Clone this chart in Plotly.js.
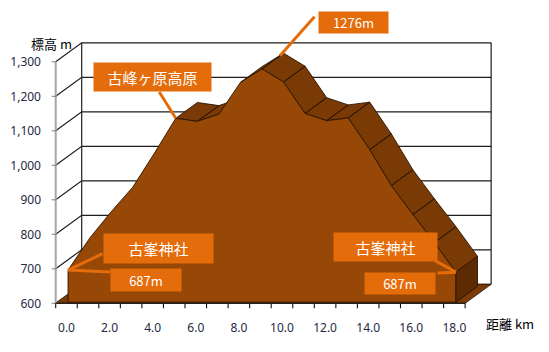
<!DOCTYPE html>
<html><head><meta charset="utf-8">
<script src="https://cdn.plot.ly/plotly-3.0.1.min.js"></script>
<style>html,body{margin:0;padding:0;background:#fff}#chart{width:549px;height:352px}</style>
</head><body><div id="chart"></div>
<script>
// ---- data ----
const distanceKm = [0,1,2,3,4,5,6,7,8,9,10,11,12,13,14,15,16,17,18];
const elevationM = [693,785,862,933,1031,1133,1124,1145,1237,1276,1238,1147,1126,1134,1042,938,854,773,687];
const yTickVals = [600,700,800,900,1000,1100,1200,1300];
const yTickText = ['600','700','800','900','1,000','1,100','1,200','1,300'];
const xTickVals = [0,2,4,6,8,10,12,14,16,18];
const xTickText = ['0.0','2.0','4.0','6.0','8.0','10.0','12.0','14.0','16.0','18.0'];
const yTitle = '標高 m';
const xTitle = '距離 km';
const peakLabel = '1276m';
const plateauLabel = '古峰ヶ原高原';
const shrineLabel = '古峯神社';
const shrineElevLabel = '687m';

// ---- geometry / style ----
const W = 549, H = 352;
const KX = 21.55, KY = 0.345;          // px per km, px per m
const X0PX = 55.7, Y0PX = 303.3;        // pixel of front-left-bottom corner
const M = {l:46, r:40, t:4, b:38};
const plotW = W - M.l - M.r, plotH = H - M.t - M.b;
const xStart = distanceKm[0] - 0.5, xEnd = distanceKm[distanceKm.length-1] + 0.5;
const yBase = yTickVals[0], yTop = yTickVals[yTickVals.length-1];
const xmin = xStart - (X0PX - M.l)/KX, xmax = xmin + plotW/KX;
const ymin = yBase - ((H - M.b) - Y0PX)/KY, ymax = ymin + plotH/KY;
const Dx = 26/KX, Dy = 19/KY;           // wall depth in data units
const FD = 0.06, BD = 0.89;             // area front/back depth fraction
const xd = px => xmin + (px - M.l)/KX;
const yd = py => ymin + ((H - M.b) - py)/KY;
const xp = px => (px - M.l)/plotW;
const yp = py => ((H - M.b) - py)/plotH;

const cFront = '#974806', cTop = '#7a3a05', cCap = '#5c2b03', cFloor = '#7a3b07';
const cBox = '#E46C0A', cEdge = '#2a1400';
const fontNum = 'Noto Sans, Liberation Sans, sans-serif';
const fontJP = 'Noto Sans CJK JP, sans-serif';

const traces = [];
// walls
{
  const x = [], y = [];
  yTickVals.forEach(v => {
    x.push(xStart, xStart + Dx, xEnd + Dx, null);
    y.push(v, v + Dy, v + Dy, null);
  });
  x.push(xStart + Dx, xStart + Dx, null, xEnd + Dx, xEnd + Dx);
  y.push(yBase + Dy, yTop + Dy, null, yBase + Dy, yTop + Dy);
  traces.push({x, y, mode:'lines', line:{color:'#1e1e1e', width:1.2}, connectgaps:false});
}
// floor
traces.push({x:[xStart, xEnd, xEnd + Dx, xStart + Dx], y:[yBase, yBase, yBase + Dy, yBase + Dy],
  fill:'toself', fillcolor:cFloor, mode:'lines', line:{color:cEdge, width:0.8}});
// y axis line + ticks
{
  const x = [xStart, xStart, null], y = [yBase, yTop, null];
  traces.push({x, y, mode:'lines', line:{color:'#a6a6a6', width:2}});
  const tx = [], ty = [];
  yTickVals.forEach(v => { tx.push(xStart - 4/KX, xStart + 1/KX, null); ty.push(v, v, null); });
  traces.push({x:tx, y:ty, mode:'lines', line:{color:'#7f7f7f', width:1}});
}
// area
const n = distanceKm.length;
const fx = distanceKm.map(d => d + FD*Dx), fy = elevationM.map(v => v + FD*Dy);
const bx = distanceKm.map(d => d + BD*Dx), by = elevationM.map(v => v + BD*Dy);
{
  const x = [], y = [];
  for (let i = 0; i < n - 1; i++) {
    const slope = (elevationM[i+1] - elevationM[i]) / (distanceKm[i+1] - distanceKm[i]);
    if (slope < Dy/Dx) {
      x.push(fx[i], fx[i+1], bx[i+1], bx[i], fx[i], null);
      y.push(fy[i], fy[i+1], by[i+1], by[i], fy[i], null);
    }
  }
  traces.push({x, y, mode:'lines', fill:'toself', fillcolor:cTop, line:{color:cEdge, width:0.9}, connectgaps:false});
}
traces.push({x:[...fx, fx[n-1], fx[0], fx[0]], y:[...fy, yBase + FD*Dy, yBase + FD*Dy, fy[0]],
  mode:'lines', fill:'toself', fillcolor:cFront, line:{color:cEdge, width:0.9}});
traces.push({x:[fx[n-1], bx[n-1], bx[n-1], fx[n-1], fx[n-1]],
  y:[fy[n-1], by[n-1], yBase + BD*Dy, yBase + FD*Dy, fy[n-1]],
  mode:'lines', fill:'toself', fillcolor:cCap, line:{color:cEdge, width:0.9}});
// x axis line + ticks
{
  const x = [xStart, xEnd, null], y = [yBase, yBase, null];
  for (let k = 0; k <= n; k++) { const b = xStart + k; x.push(b, b, null); y.push(yBase, yBase - 5/KY, null); }
  traces.push({x, y, mode:'lines', line:{color:'#111', width:1.1}});
}
traces.forEach(t => { t.hoverinfo = 'skip'; t.showlegend = false; });

// annotations
const ann = [];
function leader(tx, ty, tailPx, tailPy) {
  ann.push({x:tx, y:ty, xref:'x', yref:'y', ax:xd(tailPx), ay:yd(tailPy), axref:'x', ayref:'y',
    text:' ', font:{size:1}, showarrow:true, arrowhead:0, arrowwidth:3, arrowcolor:cBox, standoff:0, startstandoff:0});
}
function box(text, cx, cy, w, h, size, fam) {
  ann.push({x:xp(cx), y:yp(cy), xref:'paper', yref:'paper', xanchor:'center', yanchor:'middle',
    text, showarrow:false, bgcolor:cBox, width:w, height:h, borderpad:0,
    font:{family:fam, size, color:'#ffffff'}});
}
const iPeak = elevationM.indexOf(Math.max(...elevationM));
leader(distanceKm[iPeak] + 0.75*Dx, elevationM[iPeak] + 0.75*Dy, 316, 15);
leader(fx[5], fy[5], 158, 90);
leader(fx[0], fy[0], 104, 253);
leader(fx[0], fy[0], 112, 272);
leader(fx[n-1], fy[n-1], 434, 260);
leader(fx[n-1], fy[n-1], 436, 273);
box(peakLabel, 353.5, 22.5, 69, 21, 13, fontJP);
box(plateauLabel, 152, 76.5, 117, 28, 15, fontJP);
box(shrineLabel, 158, 248.5, 109, 29, 15, fontJP);
box(shrineElevLabel, 146, 280, 70, 22, 13, fontJP);
box(shrineLabel, 385, 246.5, 103, 28, 15, fontJP);
box(shrineElevLabel, 400, 283, 70, 21, 13, fontJP);
ann.push({x:xp(51), y:yp(43), xref:'paper', yref:'paper', xanchor:'center', yanchor:'middle',
  text:yTitle, showarrow:false, font:{family:fontJP, size:13, color:'#000'}});
ann.push({x:xp(510), y:yp(323), xref:'paper', yref:'paper', xanchor:'center', yanchor:'middle',
  text:xTitle, showarrow:false, font:{family:fontJP, size:13, color:'#000'}});

const layout = {
  width:W, height:H, margin:M, paper_bgcolor:'#fff', plot_bgcolor:'#fff', showlegend:false, hovermode:false,
  xaxis:{range:[xmin, xmax], showgrid:false, zeroline:false, showline:false, ticks:'',
    tickmode:'array', tickvals:xTickVals, ticktext:xTickText, ticklabelstandoff:5,
    tickfont:{family:fontNum, size:12, color:'#1f2a44'}, automargin:false, fixedrange:true},
  yaxis:{range:[ymin, ymax], showgrid:false, zeroline:false, showline:false, ticks:'',
    tickmode:'array', tickvals:yTickVals, ticktext:yTickText, ticklabelstandoff:4,
    tickfont:{family:fontNum, size:12, color:'#1f2a44'}, automargin:false, fixedrange:true},
  annotations:ann
};
Plotly.newPlot('chart', traces, layout, {staticPlot:true, displayModeBar:false});
</script></body></html>
